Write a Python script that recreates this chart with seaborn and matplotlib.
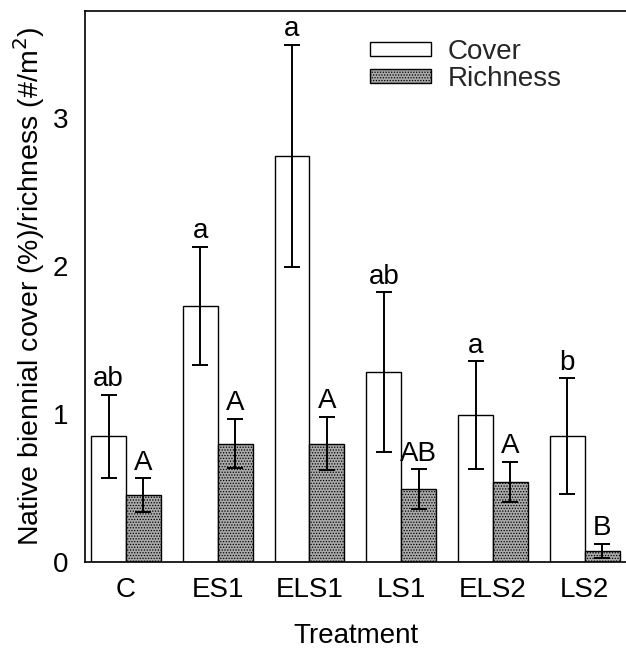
import matplotlib
matplotlib.use("Agg")
import matplotlib.pyplot as plt
import seaborn as sns
import pandas as pd
import numpy as np

treatments = ["C", "ES1", "ELS1", "LS1", "ELS2", "LS2"]
cover = [0.85, 1.73, 2.74, 1.28, 0.99, 0.85]
cover_err = [0.28, 0.40, 0.75, 0.54, 0.365, 0.39]
richness = [0.45, 0.80, 0.80, 0.49, 0.54, 0.075]
richness_err = [0.115, 0.165, 0.18, 0.135, 0.135, 0.045]
cover_letters = ["ab", "a", "a", "ab", "a", "b"]
richness_letters = ["A", "A", "A", "AB", "A", "B"]
series = ["Cover", "Richness"]

sns.set_theme(style="white")
plt.rcParams["font.family"] = ["Liberation Sans", "DejaVu Sans"]
plt.rcParams["hatch.color"] = "#4a4a4a"
plt.rcParams["hatch.linewidth"] = 0.6

df = pd.DataFrame({
    "Treatment": treatments * 2,
    "value": cover + richness,
    "series": [series[0]] * 6 + [series[1]] * 6,
})

FS = 20

fig = plt.figure(figsize=(6.26, 6.49), dpi=100)
ax = fig.add_axes([85 / 626, 87 / 649, 1 - 85 / 626, (562 - 11) / 649])

sns.barplot(data=df, x="Treatment", y="value", hue="series", order=treatments,
            hue_order=series, palette={"Cover": "white", "Richness": "#a9a9a9"},
            width=0.76, errorbar=None, edgecolor="black", linewidth=1.0,
            saturation=1, ax=ax)

conts = ax.containers
for cont, errs, letters, hatch in [(conts[0], cover_err, cover_letters, None),
                                   (conts[1], richness_err, richness_letters, "......")]:
    for bar, e, lab in zip(cont, errs, letters):
        if hatch:
            bar.set_hatch(hatch)
        xc = bar.get_x() + bar.get_width() / 2
        h = bar.get_height()
        ax.errorbar(xc, h, yerr=e, fmt="none", ecolor="black", elinewidth=1.4,
                    capsize=6, capthick=1.4, zorder=5)
        ax.annotate(lab, (xc, h + e), xytext=(0, 2), textcoords="offset points",
                    ha="center", va="bottom", fontsize=FS, color="black")

ax.set_ylim(0, 3.72)
ax.set_xlim(-0.447, 5.45)
ax.set_yticks([0, 1, 2, 3])
ax.set_yticklabels(["0", "1", "2", "3"])
ax.tick_params(axis="both", length=0, labelsize=FS, colors="black")
ax.tick_params(axis="y", pad=12)
ax.tick_params(axis="x", pad=11)
ax.set_xlabel("Treatment", fontsize=FS, color="black", labelpad=14)
ax.set_ylabel("Native biennial cover (%)/richness (#/m$^2$)", fontsize=20.5,
              color="black", labelpad=4)
for s in ["left", "top", "bottom"]:
    ax.spines[s].set_color("black")
    ax.spines[s].set_linewidth(1.2)
ax.spines["right"].set_visible(False)

handles, labels = ax.get_legend_handles_labels()
leg = ax.legend(handles, labels, loc="upper left", bbox_to_anchor=(0.48, 0.995),
                frameon=False, fontsize=FS, handlelength=2.2, handleheight=0.4,
                handletextpad=0.6, labelspacing=0.05)
for hnd in leg.legend_handles:
    if hnd.get_label() == "Richness":
        hnd.set_hatch("......")

fig.savefig("out.png", dpi=100)
